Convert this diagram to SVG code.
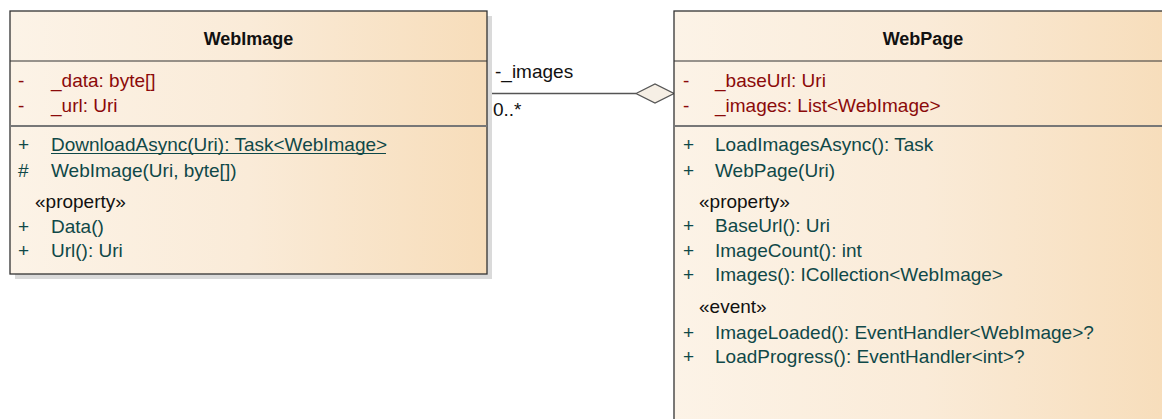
<svg xmlns="http://www.w3.org/2000/svg" width="1162" height="419" viewBox="0 0 1162 419">
<defs>
<linearGradient id="g1" x1="0" y1="0" x2="1" y2="0">
<stop offset="0" stop-color="#FCF3E7"/>
<stop offset="0.5" stop-color="#FAEBD8"/>
<stop offset="1" stop-color="#F7DDBA"/>
</linearGradient>
<linearGradient id="g2" x1="0" y1="0" x2="1" y2="0">
<stop offset="0" stop-color="#FCF3E7"/>
<stop offset="0.5" stop-color="#FAEBD8"/>
<stop offset="1" stop-color="#F7DDBA"/>
</linearGradient>
</defs>
<style>
text{font-family:"Liberation Sans",Arial,sans-serif;font-size:19px}
.title{font-weight:bold;font-size:18px;fill:#111}
.attr{fill:#8B0A0A}
.op{fill:#0F4848}
.st{fill:#111}
.box{stroke:#333;stroke-width:1.3}
.hd{stroke:#333;stroke-width:1}
.dv{stroke:#777;stroke-width:2}
.shadow{fill:#DADADA}
</style>
<rect width="1162" height="419" fill="#fff"/>
<g id="connectors">
<line x1="487" y1="93.5" x2="636" y2="93.5" stroke="#555" stroke-width="1.3"/>
<polygon points="636,93.5 655,84 674,93.5 655,103" fill="#F6EFE5" stroke="#555" stroke-width="1.3"/>
<text x="495" y="78" class="st">-_images</text>
<text x="493" y="116" class="st">0..*</text>
</g>
<g id="WebImage">
<rect x="15" y="16" width="477" height="263" class="shadow"/>
<rect x="10" y="11" width="477" height="263" fill="url(#g1)" class="box"/>
<line x1="10" y1="61" x2="487" y2="61" class="hd"/>
<line x1="10" y1="126" x2="487" y2="126" class="dv"/>
<text x="248.5" y="45" class="title" text-anchor="middle">WebImage</text>
<text x="18" y="87" class="attr">-</text>
<text x="51" y="87" class="attr">_data: byte[]</text>
<text x="18" y="111.5" class="attr">-</text>
<text x="51" y="111.5" class="attr">_url: Uri</text>
<text x="18" y="151" class="op">+</text>
<text x="51" y="151" class="op">DownloadAsync(Uri): Task&lt;WebImage&gt;</text>
<line x1="51" y1="153.5" x2="386" y2="153.5" stroke="#0F4848" stroke-width="1.2"/>
<text x="18" y="176.5" class="op">#</text>
<text x="51" y="176.5" class="op">WebImage(Uri, byte[])</text>
<text x="35" y="207.5" class="st">«property»</text>
<text x="18" y="233" class="op">+</text>
<text x="51" y="233" class="op">Data()</text>
<text x="18" y="257" class="op">+</text>
<text x="51" y="257" class="op">Url(): Uri</text>
</g>
<g id="WebPage">
<rect x="674" y="11" width="500" height="420" fill="url(#g2)" class="box"/>
<line x1="674" y1="61" x2="1174" y2="61" class="hd"/>
<line x1="674" y1="126" x2="1174" y2="126" class="dv"/>
<text x="923" y="45" class="title" text-anchor="middle">WebPage</text>
<text x="683" y="87" class="attr">-</text>
<text x="715" y="87" class="attr">_baseUrl: Uri</text>
<text x="683" y="111.5" class="attr">-</text>
<text x="715" y="111.5" class="attr">_images: List&lt;WebImage&gt;</text>
<text x="683" y="151" class="op">+</text>
<text x="715" y="151" class="op">LoadImagesAsync(): Task</text>
<text x="683" y="176.5" class="op">+</text>
<text x="715" y="176.5" class="op">WebPage(Uri)</text>
<text x="699" y="207.5" class="st">«property»</text>
<text x="683" y="232" class="op">+</text>
<text x="715" y="232" class="op">BaseUrl(): Uri</text>
<text x="683" y="256.5" class="op">+</text>
<text x="715" y="256.5" class="op">ImageCount(): int</text>
<text x="683" y="281" class="op">+</text>
<text x="715" y="281" class="op">Images(): ICollection&lt;WebImage&gt;</text>
<text x="699" y="313" class="st">«event»</text>
<text x="683" y="338.5" class="op">+</text>
<text x="715" y="338.5" class="op">ImageLoaded(): EventHandler&lt;WebImage&gt;?</text>
<text x="683" y="363" class="op">+</text>
<text x="715" y="363" class="op">LoadProgress(): EventHandler&lt;int&gt;?</text>
</g>
</svg>
